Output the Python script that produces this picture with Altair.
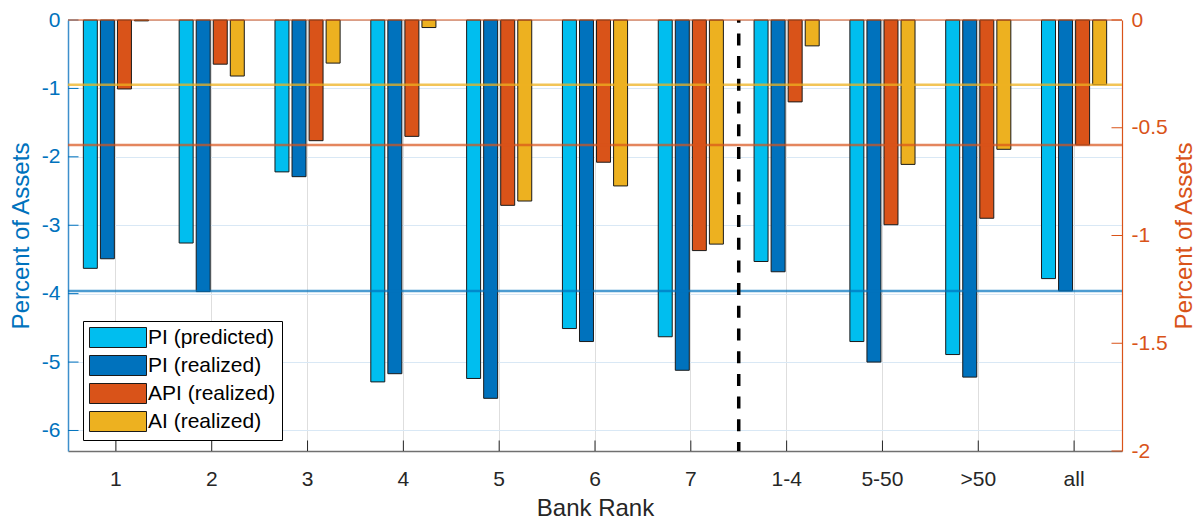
import altair as alt
import pandas as pd

categories = ["1", "2", "3", "4", "5", "6", "7", "1-4", "5-50", ">50", "all"]
pi_predicted = [-3.63, -3.26, -2.22, -5.29, -5.24, -4.51, -4.63, -3.53, -4.70, -4.89, -3.78]
pi_realized = [-3.49, -3.97, -2.29, -5.17, -5.53, -4.70, -5.12, -3.68, -5.00, -5.22, -3.96]
api_realized = [-0.32, -0.205, -0.56, -0.54, -0.86, -0.66, -1.07, -0.38, -0.95, -0.92, -0.58]
ai_realized = [-0.004, -0.26, -0.20, -0.035, -0.84, -0.77, -1.04, -0.12, -0.67, -0.60, -0.30]
series_names = ["PI (predicted)", "PI (realized)", "API (realized)", "AI (realized)"]
series_colors = ["#00BEEF", "#0072BD", "#D95319", "#EDB120"]
left_ticks = [-6, -5, -4, -3, -2, -1, 0]
right_ticks = [-2, -1.5, -1, -0.5, 0]
split_before = "1-4"
reference_category = "all"

W, H = 1054, 431
BLUE = "#0072BD"
ORANGE = "#D95319"
GRAY = "#262626"
FONT = "Liberation Sans"

left_df = pd.DataFrame({
    "category": categories * 2,
    "series": [series_names[0]] * len(categories) + [series_names[1]] * len(categories),
    "value": pi_predicted + pi_realized,
})
right_df = pd.DataFrame({
    "category": categories * 2,
    "series": [series_names[2]] * len(categories) + [series_names[3]] * len(categories),
    "value": api_realized + ai_realized,
})

x_scale = alt.Scale(domain=categories, type="band", paddingInner=0, paddingOuter=0)
x_axis = alt.Axis(
    labelFontSize=21, labelColor=GRAY, labelPadding=17, labelAngle=0,
    titleFontSize=24, titleColor=GRAY, titleFontWeight="normal", titlePadding=7,
    ticks=False, tickSize=0, domainColor="#707070", domainWidth=1.5,
    grid=True, gridColor="#DEDEDE", gridWidth=1, bandPosition=0.5,
)


def x_enc(band_position=None):
    kw = dict(scale=x_scale, sort=categories, title="Bank Rank", axis=x_axis)
    if band_position is not None:
        kw["bandPosition"] = band_position
    return alt.X("category:N", **kw)


x_offset = alt.XOffset(
    "series:N",
    scale=alt.Scale(domain=series_names, type="band", paddingInner=0.18, paddingOuter=0.9),
)
legend = alt.Legend(
    title=None, orient="none", legendX=15, legendY=301,
    symbolType="M-1,-1L4.7,-1L4.7,1L-1,1Z", symbolSize=400,
    symbolStrokeColor="#1a1a1a", symbolStrokeWidth=1, symbolOpacity=1,
    labelFontSize=21, labelOffset=38, labelColor="black", labelFont=FONT,
    rowPadding=3, padding=6, strokeColor="black", fillColor="white", cornerRadius=0,
)
color = alt.Color(
    "series:N", scale=alt.Scale(domain=series_names, range=series_colors), legend=legend,
)

label_expr = "(datum.value < 0 ? '-' : '') + toString(abs(datum.value))"
left_y_scale = alt.Scale(domain=[-6.3, 0], nice=False, zero=False)
right_y_scale = alt.Scale(domain=[-2, 0], nice=False, zero=False)
left_axis = alt.Axis(
    orient="left", values=left_ticks, labelExpr=label_expr,
    labelFontSize=21, labelColor=BLUE, labelPadding=8,
    titleFontSize=24, titleColor=BLUE, titleFontWeight="normal", titlePadding=8,
    ticks=False, tickSize=0, domainColor="#3D8FCC", domainWidth=1.5,
    grid=True, gridColor="#D9E8F5", gridWidth=1,
)
right_axis = alt.Axis(
    orient="right", values=right_ticks, labelExpr=label_expr,
    labelFontSize=21, labelColor=ORANGE, labelPadding=9,
    titleFontSize=24, titleColor=ORANGE, titleFontWeight="normal", titlePadding=5,
    titleAngle=270, titleBaseline="top",
    ticks=False, tickSize=0, domainColor=ORANGE, domainWidth=1.2,
    grid=False,
)


def y_left():
    return alt.Y("value:Q", scale=left_y_scale, title="Percent of Assets", axis=left_axis)


def y_right():
    return alt.Y("value:Q", scale=right_y_scale, title="Percent of Assets", axis=right_axis)


left_bars = alt.Chart(left_df).mark_bar(stroke="#1a1a1a", strokeWidth=1).encode(
    x=x_enc(), xOffset=x_offset, y=y_left(), color=color,
)

blue_line = alt.Chart(left_df).transform_filter(
    (alt.datum.category == reference_category) & (alt.datum.series == series_names[1])
).mark_rule(color=BLUE, strokeWidth=2.5, opacity=0.7).encode(y=y_left())

left_tick_marks = alt.Chart(pd.DataFrame({"value": left_ticks})).mark_rule(
    color=BLUE, strokeWidth=1
).encode(y=y_left(), x=alt.value(0), x2=alt.value(10.5))

x_tick_marks = alt.Chart(pd.DataFrame({"category": categories})).mark_rule(
    color=GRAY, strokeWidth=1
).encode(x=x_enc(0.5), y=alt.value(H - 10.5), y2=alt.value(H))

divider = alt.Chart(pd.DataFrame({"category": [split_before]})).mark_rule(
    color="black", strokeWidth=3.5, strokeDash=[12, 10.7], strokeDashOffset=9.3
).encode(x=x_enc(0))

left_group = alt.layer(left_bars, blue_line, left_tick_marks, x_tick_marks, divider)

right_bars = alt.Chart(right_df).mark_bar(stroke="#1a1a1a", strokeWidth=1).encode(
    x=x_enc(), xOffset=x_offset, y=y_right(), color=color,
)

api_line = alt.Chart(right_df).transform_filter(
    (alt.datum.category == reference_category) & (alt.datum.series == series_names[2])
).mark_rule(color=ORANGE, strokeWidth=2.5, opacity=0.7).encode(y=y_right())

ai_line = alt.Chart(right_df).transform_filter(
    (alt.datum.category == reference_category) & (alt.datum.series == series_names[3])
).mark_rule(color="#EDB120", strokeWidth=2.5, opacity=0.75).encode(y=y_right())

right_tick_marks = alt.Chart(pd.DataFrame({"value": right_ticks})).mark_rule(
    color=ORANGE, strokeWidth=1
).encode(y=y_right(), x=alt.value(W - 10.5), x2=alt.value(W))

top_edge = alt.Chart(pd.DataFrame({"value": [0]})).mark_rule(
    color=ORANGE, strokeWidth=1.2
).encode(y=y_right())

right_group = alt.layer(right_bars, api_line, ai_line, right_tick_marks, top_edge)

chart = alt.layer(left_group, right_group).resolve_scale(
    y="independent"
).properties(
    width=W, height=H,
    autosize=alt.AutoSizeParams(type="none"),
    padding={"left": 60, "top": 12, "right": 74, "bottom": 68},
).configure(
    font=FONT,
).configure_view(
    stroke=None,
).configure_legend(
    strokeWidth=1,
)

chart.save("out.html", embed_options={"renderer": "svg", "actions": False})
